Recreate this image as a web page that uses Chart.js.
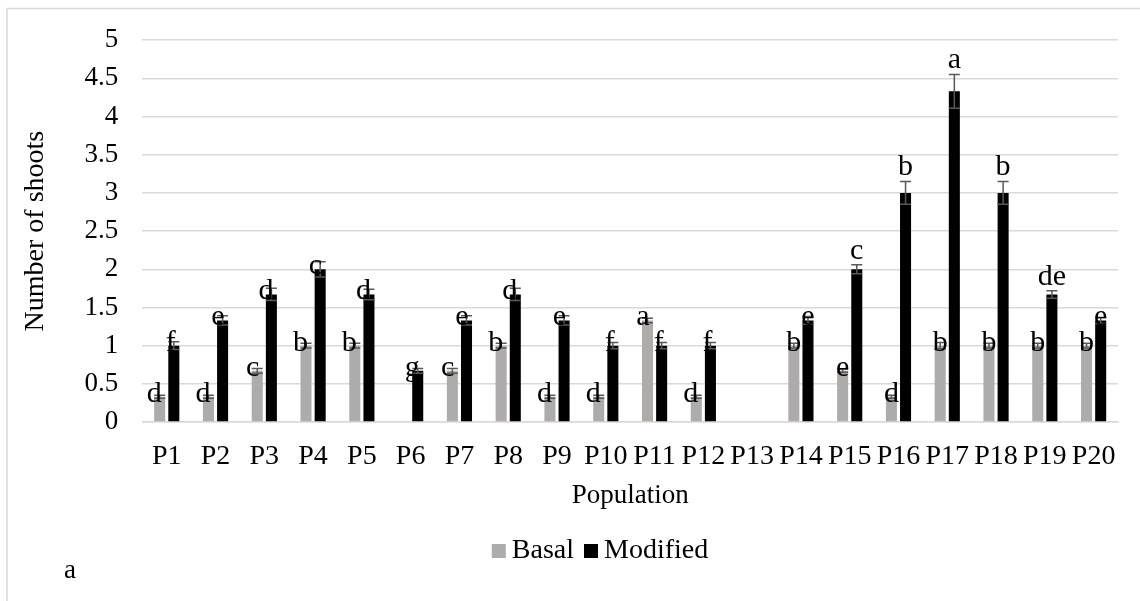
<!DOCTYPE html>
<html>
<head>
<meta charset="utf-8">
<script src="https://cdn.jsdelivr.net/npm/chart.js@4"></script>
<style>
  html, body { margin: 0; padding: 0; background: #fff; }
  #wrap { position: relative; width: 1140px; height: 601px; }
</style>
</head>
<body>
<div id="wrap"><canvas id="shoots" width="1140" height="601"></canvas></div>
<script>
const populations = ['P1','P2','P3','P4','P5','P6','P7','P8','P9','P10','P11','P12','P13','P14','P15','P16','P17','P18','P19','P20'];
const basal = [0.33,0.33,0.67,1,1,0,0.67,1,0.33,0.33,1.33,0.33,0,1,0.67,0.33,1,1,1,1];
const modified = [1,1.33,1.67,2,1.67,0.67,1.33,1.67,1.33,1,1,1,0,1.33,2,3,4.33,3,1.67,1.33];
const basalErr = [0.02,0.02,0.03,0.03,0.03,0,0.03,0.03,0.02,0.02,0.03,0.02,0,0.03,0.02,0.02,0.04,0.03,0.03,0.03];
const modifiedErr = [0.05,0.06,0.08,0.1,0.07,0.03,0.06,0.08,0.06,0.04,0.04,0.04,0,0.05,0.06,0.15,0.22,0.15,0.05,0.04];
const basalLetters = ['d','d','c','b','b','','c','b','d','d','a','d','','b','e','d','b','b','b','b'];
const modifiedLetters = ['f','e','d','c','d','g','e','d','e','f','f','f','','e','c','b','a','b','de','e'];

const serif = "'Liberation Serif', 'Times New Roman', serif";
const errs = [basalErr, modifiedErr];
const letters = [basalLetters, modifiedLetters];

// light frame (only left and top edges show in the picture)
const frame = {
  id: 'frame',
  beforeDraw(chart) {
    const c = chart.ctx;
    c.save();
    c.fillStyle = '#fff';
    c.fillRect(0, 0, chart.width, chart.height);
    c.strokeStyle = '#d9d9d9';
    c.lineWidth = 1.5;
    c.beginPath();
    c.moveTo(7, chart.height);
    c.lineTo(7, 8.5);
    c.lineTo(chart.width, 8.5);
    c.stroke();
    c.restore();
  }
};

const barExtras = {
  id: 'barExtras',
  afterDatasetsDraw(chart) {
    const c = chart.ctx;
    const y = chart.scales.y;
    c.save();
    // error bars
    chart.data.datasets.forEach((ds, d) => {
      chart.getDatasetMeta(d).data.forEach((bar, i) => {
        const v = ds.data[i], e = errs[d][i];
        if (!v) return;
        const top = y.getPixelForValue(v + e);
        const bot = y.getPixelForValue(v - e);
        c.strokeStyle = '#595959';
        c.lineWidth = 1.5;
        c.beginPath();
        c.moveTo(bar.x, top); c.lineTo(bar.x, bot);
        c.moveTo(bar.x - 5.5, top); c.lineTo(bar.x + 5.5, top);
        c.moveTo(bar.x - 5.5, bot); c.lineTo(bar.x + 5.5, bot);
        c.stroke();
      });
    });
    // significance letters
    c.fillStyle = '#000';
    c.font = '30px ' + serif;
    chart.data.datasets.forEach((ds, d) => {
      chart.getDatasetMeta(d).data.forEach((bar, i) => {
        const txt = letters[d][i];
        if (!txt) return;
        const v = ds.data[i], e = errs[d][i];
        if (i >= 13) {
          c.textAlign = 'center';
          if (d === 1 && v >= 1.6) {
            c.textBaseline = 'bottom';
            c.fillText(txt, bar.x, y.getPixelForValue(v + e) + 1);
          } else {
            c.textBaseline = 'middle';
            c.fillText(txt, bar.x, bar.y - 3);
          }
        } else {
          c.textAlign = 'right';
          c.textBaseline = 'middle';
          c.fillText(txt, bar.x + 2, bar.y - 3);
        }
      });
    });
    c.restore();
  },
  afterDraw(chart) {
    const c = chart.ctx;
    c.save();
    c.font = '28px ' + serif;
    c.textBaseline = 'alphabetic';
    c.textAlign = 'left';
    // legend row, Excel style: small square hugging its text
    const items = chart.data.datasets.map(ds => ({ label: ds.label, color: ds.backgroundColor, w: c.measureText(ds.label).width }));
    const box = 14, gap = 6, sep = 10;
    const total = items.reduce((s, it) => s + box + gap + it.w, 0) + sep * (items.length - 1);
    let x = 600 - total / 2;
    const base = 558;
    items.forEach(it => {
      c.fillStyle = it.color;
      c.fillRect(x, base - box, box, box);
      x += box + gap;
      c.fillStyle = '#000';
      c.fillText(it.label, x, base);
      x += it.w + sep;
    });
    // panel tag
    c.font = '27px ' + serif;
    c.fillText('a', 64, 578);
    c.restore();
  }
};

new Chart(document.getElementById('shoots'), {
  type: 'bar',
  data: {
    labels: populations,
    datasets: [
      { label: 'Basal', data: basal, backgroundColor: '#aeabab' },
      { label: 'Modified', data: modified, backgroundColor: '#000000' }
    ]
  },
  options: {
    responsive: false,
    animation: false,
    categoryPercentage: 0.58,
    barPercentage: 0.78,
    layout: { padding: { top: 28, right: 22, left: 19, bottom: 45 } },
    plugins: {
      legend: { display: false },
      tooltip: { enabled: false }
    },
    scales: {
      x: {
        grid: { display: false, drawTicks: false },
        border: { color: '#d9d9d9', width: 1.5 },
        ticks: { color: '#000', padding: 18, maxRotation: 0, autoSkip: false, font: { family: serif, size: 28 } },
        title: { display: true, text: 'Population', color: '#000', padding: { top: -12, bottom: 44 }, font: { family: serif, size: 27 } }
      },
      y: {
        min: 0, max: 5,
        grid: { color: '#d9d9d9', lineWidth: 1.5, drawTicks: false },
        border: { display: false },
        ticks: {
          stepSize: 0.5, color: '#000', padding: 24,
          font: { family: serif, size: 27 },
          callback: v => String(+v.toFixed(1))
        },
        title: { display: true, text: 'Number of shoots', color: '#000', padding: { top: 0, bottom: 8 }, font: { family: serif, size: 28 } }
      }
    }
  },
  plugins: [frame, barExtras]
});
</script>
</body>
</html>
